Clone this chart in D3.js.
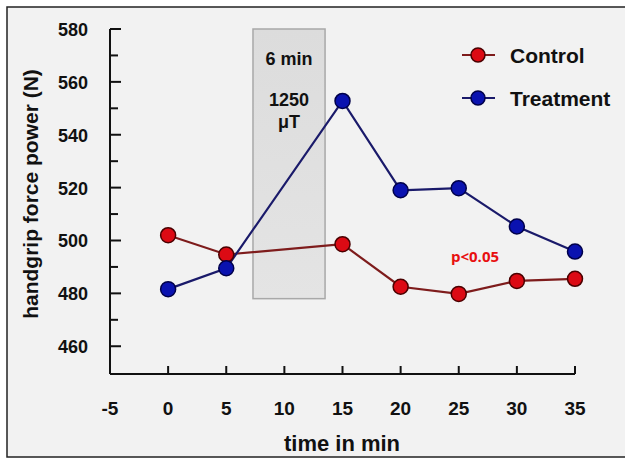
<!DOCTYPE html>
<html><head><meta charset="utf-8">
<script src="https://cdn.jsdelivr.net/npm/d3@7"></script>
<style>html,body{margin:0;padding:0;background:#fff;}svg{display:block;}</style>
</head><body>
<script>
const times = [0, 5, 15, 20, 25, 30, 35];
const control = [502, 494.7, 498.6, 482.5, 479.8, 484.7, 485.5];
const treatment = [481.6, 489.5, 552.8, 519, 519.8, 505.3, 495.8];
const seriesNames = ["Control", "Treatment"];
const yMajorTicks = [460, 480, 500, 520, 540, 560, 580];
const yMinorTicks = [470, 490, 510, 530, 550, 570];
const xTicks = [0, 5, 10, 15, 20, 25, 30, 35];
const xTickLabels = [-5, 0, 5, 10, 15, 20, 25, 30, 35];
const exposure = {x0: 7.3, x1: 13.5, y0: 478, y1: 580};
const boxLabels = ["6 min", "1250", "μT"];
const pText = "p<0.05";

const W = 625, H = 459;
const svg = d3.select("body").append("svg").attr("width", W).attr("height", H);
svg.append("rect").attr("x",7).attr("y",7).attr("width",630).attr("height",450)
  .attr("fill","#f2f2f2").attr("stroke","#222").attr("stroke-width",1.5);

const x = d3.scaleLinear().domain([-5, 35]).range([110, 575]);
const y = d3.scaleLinear().domain([449.5, 580]).range([374, 29]);

const font = "'Liberation Sans', Arial, sans-serif";

// exposure box
const defs = svg.append("defs");
const grad = defs.append("linearGradient").attr("id","g").attr("x1",0).attr("y1",0).attr("x2",0).attr("y2",1);
grad.append("stop").attr("offset","0%").attr("stop-color","#dcdcdc");
grad.append("stop").attr("offset","100%").attr("stop-color","#e4e4e4");
svg.append("rect").attr("x", x(exposure.x0)).attr("y", y(exposure.y1))
  .attr("width", x(exposure.x1)-x(exposure.x0)).attr("height", y(exposure.y0)-y(exposure.y1))
  .attr("fill","url(#g)").attr("stroke","#a8a8a8").attr("stroke-width",1.5);
const bx = (x(exposure.x0)+x(exposure.x1))/2;
const boxY = [65, 106, 128];
boxLabels.forEach((t,i)=>{
  svg.append("text").attr("x",bx).attr("y",boxY[i]).attr("text-anchor","middle")
    .attr("font-family",font).attr("font-weight","bold").attr("font-size",18).attr("fill","#111").text(t);
});

// axes
const gy = svg.append("g");
gy.append("line").attr("x1",x(-5)).attr("x2",x(-5)).attr("y1",y(580)).attr("y2",y(449.5))
  .attr("stroke","#111").attr("stroke-width",2);
gy.selectAll(".maj").data(yMajorTicks).join("line")
  .attr("x1",x(-5)).attr("x2",x(-5)+11).attr("y1",d=>y(d)).attr("y2",d=>y(d)).attr("stroke","#111").attr("stroke-width",2);
gy.selectAll(".min").data(yMinorTicks).join("line").attr("class","min")
  .attr("x1",x(-5)).attr("x2",x(-5)+8).attr("y1",d=>y(d)).attr("y2",d=>y(d)).attr("stroke","#111").attr("stroke-width",2);
gy.selectAll(".lab").data(yMajorTicks).join("text").attr("class","lab")
  .attr("x",88).attr("y",d=>y(d)+7).attr("text-anchor","end")
  .attr("font-family",font).attr("font-weight","bold").attr("font-size",18).attr("fill","#111").text(d=>d);

const gx = svg.append("g");
gx.append("line").attr("x1",x(-5)).attr("x2",x(35)).attr("y1",y(449.5)).attr("y2",y(449.5))
  .attr("stroke","#111").attr("stroke-width",2);
gx.selectAll(".t").data(xTicks).join("line").attr("class","t")
  .attr("x1",d=>x(d)).attr("x2",d=>x(d)).attr("y1",y(449.5)).attr("y2",y(449.5)-8).attr("stroke","#111").attr("stroke-width",2);
gx.selectAll(".lab").data(xTickLabels).join("text").attr("class","lab")
  .attr("x",d=>x(d)).attr("y",415).attr("text-anchor","middle")
  .attr("font-family",font).attr("font-weight","bold").attr("font-size",19).attr("fill","#111").text(d=>d);

svg.append("text").attr("x",342).attr("y",451).attr("text-anchor","middle")
  .attr("font-family",font).attr("font-weight","bold").attr("font-size",22).attr("fill","#111").text("time in min");
svg.append("text").attr("transform","translate(38,194) rotate(-90)").attr("text-anchor","middle")
  .attr("font-family",font).attr("font-weight","bold").attr("font-size",21).attr("fill","#111").text("handgrip force power (N)");

// series
const styles = [
  {line:"#7e1c1c", fill:"#dc0a14", stroke:"#4a0000"},
  {line:"#1a1a6a", fill:"#0a12b0", stroke:"#00004a"}
];
const data = [control, treatment];
const lineGen = d3.line().x(d=>x(d[0])).y(d=>y(d[1]));
data.forEach((vals,i)=>{
  const pts = times.map((t,j)=>[t, vals[j]]);
  svg.append("path").datum(pts).attr("d",lineGen).attr("fill","none")
    .attr("stroke",styles[i].line).attr("stroke-width",2.2);
});
data.forEach((vals,i)=>{
  const pts = times.map((t,j)=>[t, vals[j]]);
  svg.selectAll(null).data(pts).join("circle").attr("cx",d=>x(d[0])).attr("cy",d=>y(d[1])).attr("r",7.5)
    .attr("fill",styles[i].fill).attr("stroke",styles[i].stroke).attr("stroke-width",1.5);
});

// legend
const legY = [55, 98];
seriesNames.forEach((n,i)=>{
  svg.append("line").attr("x1",462).attr("x2",495).attr("y1",legY[i]).attr("y2",legY[i])
    .attr("stroke",styles[i].line).attr("stroke-width",2.2);
  svg.append("circle").attr("cx",478).attr("cy",legY[i]).attr("r",7)
    .attr("fill",styles[i].fill).attr("stroke",styles[i].stroke).attr("stroke-width",1.5);
  svg.append("text").attr("x",510).attr("y",legY[i]+8)
    .attr("font-family",font).attr("font-weight","bold").attr("font-size",21).attr("fill","#111").text(n);
});

svg.append("text").attr("x",475).attr("y",262).attr("text-anchor","middle")
  .attr("font-family","'Open Sans', sans-serif").attr("font-weight","bold").attr("font-size",15).attr("fill","#e81010").text(pText);
</script>
</body></html>
